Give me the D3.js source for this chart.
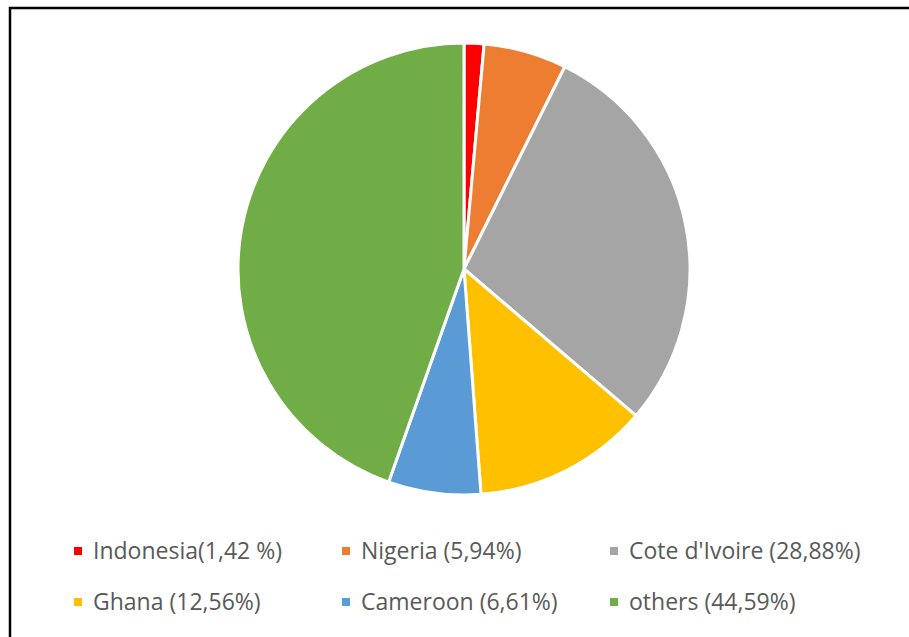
<!DOCTYPE html>
<html>
<head>
<meta charset="utf-8">
<script src="https://cdn.jsdelivr.net/npm/d3@7"></script>
<style>
  body { margin: 0; background: #fff; }
  text { font-family: "Open Sans", "Liberation Sans", sans-serif; }
</style>
</head>
<body>
<div id="chart"></div>
<script>
/*global d3*/

var countries = ["Indonesia", "Nigeria", "Cote d'Ivoire", "Ghana", "Cameroon", "others"];
var shares = [1.42, 5.94, 28.88, 12.56, 6.61, 44.59];
var labels = ["Indonesia(1,42 %)", "Nigeria (5,94%)", "Cote d'Ivoire (28,88%)",
              "Ghana (12,56%)", "Cameroon (6,61%)", "others (44,59%)"];
var colors = ["#ff0000", "#ed7d31", "#a5a5a5", "#ffc000", "#5b9bd5", "#70ad47"];

var width = 909,
    height = 637,
    cx = 464,
    cy = 269,
    r = 226;

var data = countries.map(function(c, i) {
  return {name: c, value: shares[i], label: labels[i]};
});

var color = d3.scaleOrdinal().domain(countries).range(colors);

var svg = d3.select("#chart").append("svg")
  .attr("width", width)
  .attr("height", height);

// frame around the chart area
svg.append("rect")
  .attr("x", 10)
  .attr("y", 8)
  .attr("width", 920)
  .attr("height", 660)
  .style("fill", "none")
  .style("stroke", "#000")
  .style("stroke-width", 2.5);

var pie = d3.pie()
  .sort(null)
  .value(function(d) { return d.value; });

var arc = d3.arc()
  .innerRadius(0)
  .outerRadius(r);

var g = svg.append("g")
  .attr("transform", "translate(" + cx + "," + cy + ")");

g.selectAll("path")
  .data(pie(data))
  .enter()
  .append("path")
  .attr("d", arc)
  .style("fill", function(d) { return color(d.data.name); })
  .style("stroke", "#fff")
  .style("stroke-width", 3)
  .style("stroke-linejoin", "round");

// legend, 3 columns x 2 rows
var colX = d3.scalePoint().domain([0, 1, 2]).range([74, 610]);
var rowY = d3.scalePoint().domain([0, 1]).range([551, 602]);

var leg = svg.selectAll(".leg")
  .data(data)
  .enter()
  .append("g")
  .attr("class", "leg")
  .attr("transform", function(d, i) {
    return "translate(" + colX(i % 3) + "," + rowY(Math.floor(i / 3)) + ")";
  });

leg.append("rect")
  .attr("x", 0)
  .attr("y", -4)
  .attr("width", 8)
  .attr("height", 8)
  .style("fill", function(d) { return color(d.name); });

leg.append("text")
  .attr("x", 19)
  .attr("y", 0)
  .attr("dy", "0.35em")
  .style("font-size", "23px")
  .style("fill", "#595959")
  .text(function(d) { return d.label; });
</script>
</body>
</html>
